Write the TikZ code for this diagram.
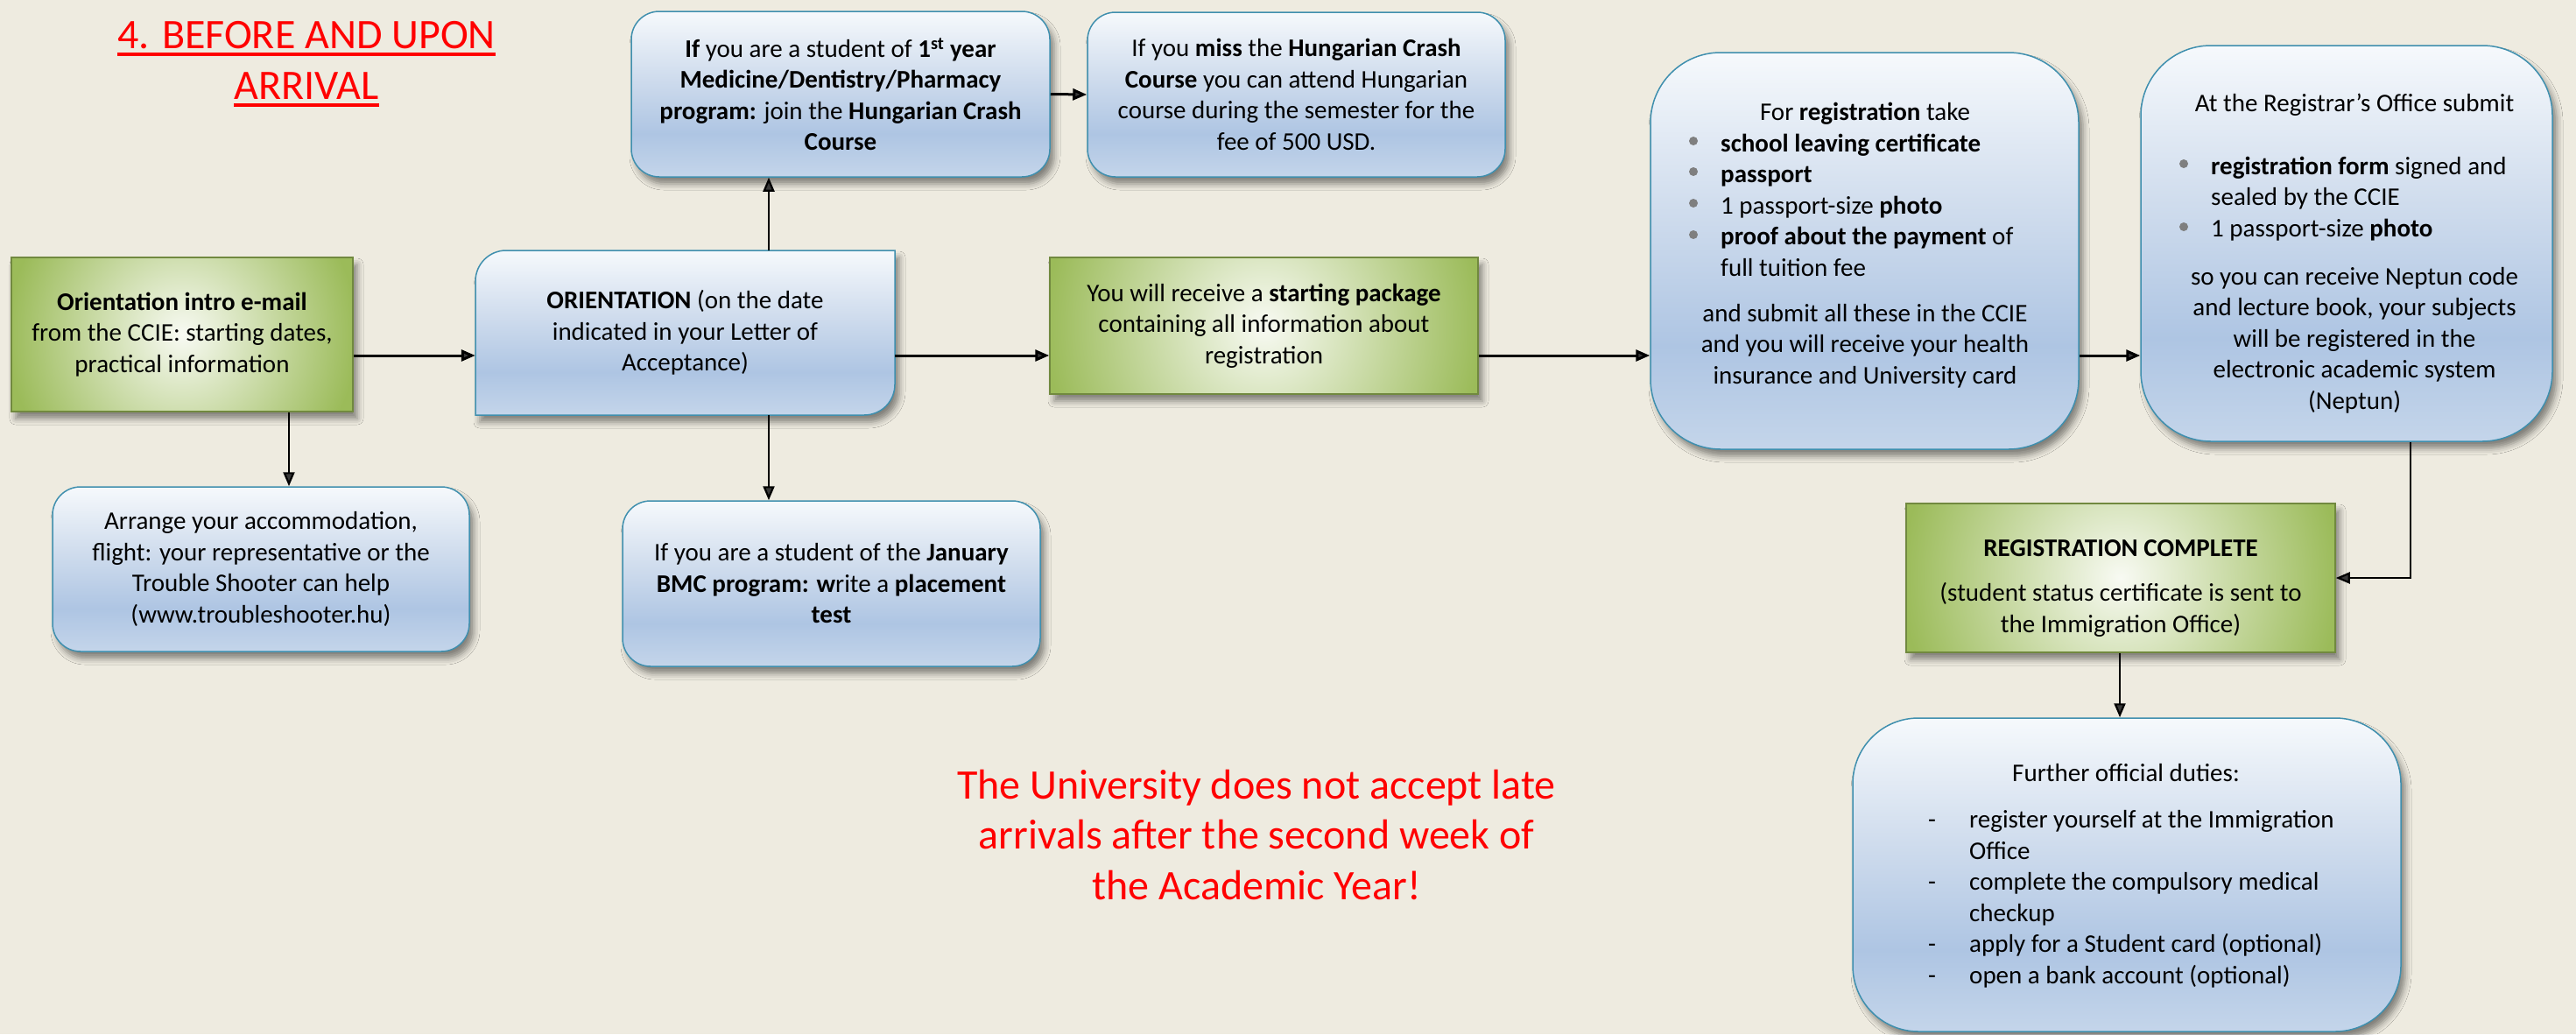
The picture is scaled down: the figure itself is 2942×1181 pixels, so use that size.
\documentclass[tikz,border=0pt]{standalone}
\usepackage{fontspec}
\setmainfont{Carlito}
\usetikzlibrary{arrows.meta,shadows.blur,calc}

\definecolor{bg}{HTML}{EEEBE0}
\definecolor{bT}{HTML}{F6F9FC}
\definecolor{bM}{HTML}{CFDCED}
\definecolor{bD}{HTML}{AEC5E3}
\definecolor{bB}{HTML}{C4D5EA}
\definecolor{bline}{HTML}{3F8FAE}
\definecolor{gC}{HTML}{F8FAF3}
\definecolor{gE}{HTML}{9BBB59}
\definecolor{gline}{HTML}{71893F}
\definecolor{redt}{HTML}{FF0000}
\definecolor{bul}{HTML}{7F7F7F}

\pgfdeclareverticalshading{bluegrad}{100bp}{color(0bp)=(bB); color(25bp)=(bB); color(38bp)=(bD); color(55bp)=(bM); color(75bp)=(bT); color(100bp)=(bT)}

\tikzset{
 body/.style={font=\fontsize{29}{35.5}\selectfont, align=center, text=black},
 txt/.style={body, inner sep=0pt},
 shadowy/.style={blur shadow={shadow xshift=5pt,shadow yshift=-8pt,shadow blur radius=7pt,shadow opacity=45}},
 blueface/.style={draw=bline, line width=1.5pt, shade, shading=bluegrad},
 bluebox/.style={rectangle, rounded corners=#1, blueface, shadowy, body},
 bluebox/.default=32pt,
 greenbox/.style={rectangle, draw=gline, line width=1.5pt, fill=gE, shadowy, body,
   path picture={\shade[inner color=gC, outer color=gE] (path picture bounding box.center) circle (#1);}},
 arr/.style={-{Triangle[length=16pt,width=13pt]}, line width=3pt},
 arrthin/.style={-{Triangle[length=16pt,width=13pt]}, line width=2.2pt},
 titlef/.style={font=\fontsize{48}{58}\selectfont, text=redt, inner sep=0pt},
 warnf/.style={font=\fontsize{48}{57.5}\selectfont, text=redt, inner sep=0pt, align=center},
 bulletdot/.style={fill=bul},
}

\begin{document}
\begin{tikzpicture}[x=1pt,y=-1pt]
\useasboundingbox (0,0) rectangle (2942,1181);
\fill[bg] (0,0) rectangle (2942,1181);

% title
\node[titlef, anchor=base] (t1) at (350,55) {4. BEFORE AND UPON};
\node[titlef, anchor=base] (t2) at (350,113) {ARRIVAL};
\draw[redt, line width=4pt] ($(t1.base west)+(0,7)$) -- ($(t1.base east)+(0,7)$);
\draw[redt, line width=4pt] ($(t2.base west)+(0,7)$) -- ($(t2.base east)+(0,7)$);

% helper coordinates
\coordinate (yflow) at (0,406);
\coordinate (xo) at (878,0);
\coordinate (xi) at (330,0);
\coordinate (xr) at (2753,0);
\coordinate (xc) at (2421,0);

% green boxes
\node[greenbox=200pt, minimum width=390pt, minimum height=176pt] (intro) at (208,382)
 {\textbf{Orientation intro e-mail}\\from the CCIE: starting dates,\\practical information};
\node[greenbox=250pt, minimum width=489pt, minimum height=156pt] (pkg) at (1443.5,372)
 {You will receive a \textbf{starting package}\\containing all information about\\registration};
\node[greenbox=250pt, minimum width=490pt, minimum height=170pt] (complete) at (2422,660) {};

% orientation (rounded top-left and bottom-right)
\path[blueface, shadowy] (543,474) -- (543,321) .. controls (543,301.7) and (558.7,286) .. (578,286)
  -- (1022,286) -- (1022,439) .. controls (1022,458.3) and (1006.7,474) .. (987,474) -- cycle;
\node[body, minimum width=479pt, minimum height=188pt] (orient) at (782.5,380)
 {\textbf{ORIENTATION} (on the date\\indicated in your Letter of\\Acceptance)};

% blue boxes
\node[bluebox, minimum width=478pt, minimum height=189pt] (crash) at (960,107.5)
 {\textbf{If} you are a student of \textbf{1\textsuperscript{st} year}\\\textbf{Medicine/Dentistry/Pharmacy}\\\textbf{program:} join the \textbf{Hungarian Crash}\\\textbf{Course}};
\node[bluebox, minimum width=477pt, minimum height=188pt] (miss) at (1480.5,108)
 {If you \textbf{miss} the \textbf{Hungarian Crash}\\\textbf{Course} you can attend Hungarian\\course during the semester for the\\fee of 500 USD.};
\node[bluebox, minimum width=476pt, minimum height=188pt] (arrange) at (298,650)
 {Arrange your accommodation,\\flight: your representative or the\\Trouble Shooter can help\\(www.troubleshooter.hu)};
\node[bluebox, minimum width=477pt, minimum height=189pt] (bmc) at (949.5,666.5)
 {If you are a student of the \textbf{January}\\\textbf{BMC program: w}rite a \textbf{placement}\\\textbf{test}};
\node[bluebox=80pt, minimum width=489pt, minimum height=453pt] (reg) at (2129.5,286.5) {};
\node[bluebox=80pt, minimum width=470pt, minimum height=452pt] (registrar) at (2680,278) {};
\node[bluebox=75pt, minimum width=626pt, minimum height=358pt] (further) at (2429,999) {};

% registration box text (base anchor = last line)
\node[txt, anchor=base] (regA) at (2130,137) {For \textbf{registration} take};
\node[txt, align=left, anchor=base west] (regB) at (1965,315)
 {\textbf{school leaving certificate}\\\textbf{passport}\\1 passport-size \textbf{photo}\\\textbf{proof about the payment} of\\full tuition fee};
\node[txt, anchor=base] (regC) at (2130,438)
 {and submit all these in the CCIE\\and you will receive your health\\insurance and University card};
\foreach \yy in {172,207,243,279} \fill[bulletdot] (1934,\yy-11) circle (5pt);

% registrar text
\node[txt, anchor=base] (rgA) at (2689,127) {At the Registrar’s Office submit};
\node[txt, align=left, anchor=base west] (rgB) at (2525,270)
 {\textbf{registration form} signed and\\sealed by the CCIE\\1 passport-size \textbf{photo}};
\node[txt, anchor=base] (rgC) at (2689,467)
 {so you can receive Neptun code\\and lecture book, your subjects\\will be registered in the\\electronic academic system\\(Neptun)};
\foreach \yy in {198,270} \fill[bulletdot] (2494,\yy-11) circle (5pt);

% registration complete text
\node[txt, anchor=base] (cmpA) at (2422,722)
 {\textbf{REGISTRATION COMPLETE}\\[15.5pt](student status certificate is sent to\\the Immigration Office)};

% further duties text
\node[txt, anchor=base] (fuA) at (2428,892) {Further official duties:};
\node[txt, align=left, anchor=base west] (fuB) at (2249,1123)
 {register yourself at the Immigration\\Office\\complete the compulsory medical\\checkup\\apply for a Student card (optional)\\open a bank account (optional)};
\node[txt, align=left, anchor=base west] (fuD) at (2202,1123) {-\\[35.5pt]-\\[35.5pt]-\\-};

% warning
\node[warnf, anchor=base] (warn) at (1435,1027)
 {The University does not accept late\\arrivals after the second week of\\the Academic Year!};

% connectors
\draw[arr] (intro.east |- yflow) -- (orient.west |- yflow);
\draw[arr] (orient.east |- yflow) -- (pkg.west |- yflow);
\draw[arr] (pkg.east |- yflow) -- (reg.west |- yflow);
\draw[arr] (reg.east |- yflow) -- (registrar.west |- yflow);
\draw[arrthin] (orient.north -| xo) -- (crash.south -| xo);
\draw[arrthin] (orient.south -| xo) -- (bmc.north -| xo);
\draw[arr] (crash.east) -- (miss.west);
\draw[arrthin] (intro.south -| xi) -- (arrange.north -| xi);
\draw[arrthin] (registrar.south -| xr) |- (complete.east);
\draw[arrthin] (complete.south -| xc) -- (further.north -| xc);
\end{tikzpicture}
\end{document}
